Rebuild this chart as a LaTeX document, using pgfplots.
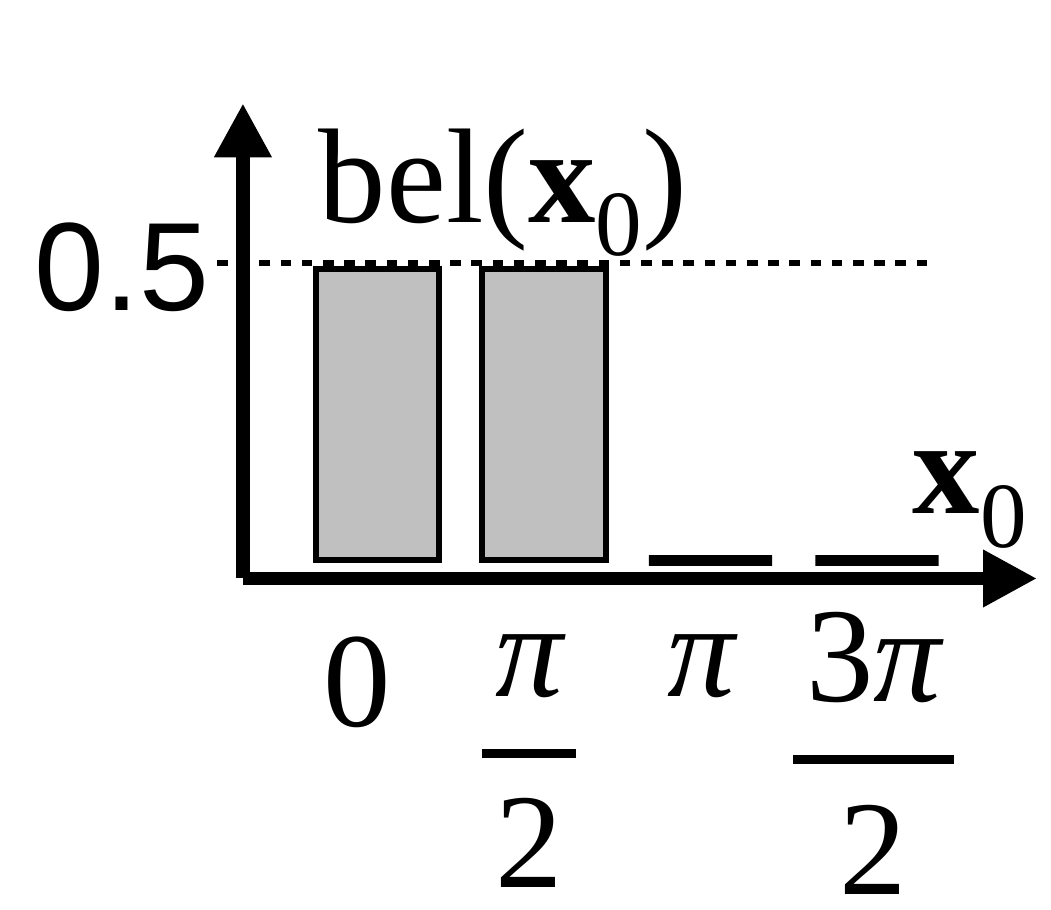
\documentclass[border=0pt]{standalone}
\usepackage{pgfplots}
\pgfplotsset{compat=1.18}
\usepackage{fontspec}
\setmainfont{Liberation Serif}
\newfontfamily\arial{Liberation Sans}
\usetikzlibrary{arrows.meta}
\definecolor{barGray}{RGB}{192,192,192}
% fraction: #1 numerator, #2 denominator, #3 bar width, #4 gap baseline->bar, #5 gap bar->den baseline
\newcommand\fr[5]{%
 \vtop{\offinterlineskip
  \setbox0=\hbox to #3{\hss#1\hss}\dp0=0pt \box0
  \kern #4
  \hrule height 2.25pt width #3
  \setbox0=\hbox to #3{\hss#2\hss}%
  \kern\dimexpr #5-\ht0\relax
  \box0}}
\newcommand\bigfont{\fontsize{33.7pt}{40pt}\selectfont}
\newcommand\subfont{\fontsize{23.3pt}{28pt}\selectfont}
\begin{document}
\begin{tikzpicture}
\begin{axis}[
  x=41.625pt, y=148.5pt,
  xmin=-0.808, xmax=3.961, ymin=-0.031, ymax=0.769,
  axis lines=left,
  axis line style={line width=3.3pt, -{Triangle[length=13.5pt,width=13.5pt]}},
  clip=false, enlargelimits=false,
  major tick length=0pt,
  xtick={-0.123,0.910,1.943,2.979},
  xticklabels={\raisebox{-7.5pt}{0}, \fr{\itshape π}{2}{23.5pt}{13.25pt}{32.25pt}, {\itshape π}, \raisebox{-1.25pt}{\fr{3{\itshape π}}{2}{40.25pt}{13.5pt}{32.5pt}}},
  xticklabel style={anchor=base, inner sep=0pt, font=\bigfont, yshift=-29.5pt},
  ytick={0.5}, yticklabels={0.5},
  yticklabel style={anchor=east, inner sep=0pt, font=\arial\fontsize{31.4pt}{38pt}\selectfont, xshift=-8.25pt, yshift=-1pt},
  xlabel={\textbf{x}\raisebox{-8.5pt}{\subfont 0}},
  xlabel style={at={(axis cs:3.21,0.0791)}, anchor=base west, inner sep=0pt, font=\bigfont},
  ylabel={bel(\textbf{x}\raisebox{-8.25pt}{\subfont 0})},
  ylabel style={rotate=-90, at={(axis cs:-0.357,0.569)}, anchor=base west, inner sep=0pt, font=\bigfont},
]
\addplot[black, line width=1.4pt, dash pattern=on 2.65pt off 2.65pt, forget plot] coordinates {(-0.964,0.5) (3.33,0.5)};
\addplot[ybar, bar width=0.74, bar shift=0pt, fill=barGray, draw=black, line width=1.5pt] coordinates {(0,0.49) (1,0.49)};
\addplot[ybar, bar width=0.74, bar shift=0pt, fill=black, draw=black, line width=2.75pt] coordinates {(2,0) (3,0)};
\coordinate (bbSW) at (axis cs:-2.267,-0.5875);
\coordinate (bbNE) at (axis cs:4.045,0.9428);
\end{axis}
\pgfresetboundingbox
\useasboundingbox (bbSW) rectangle (bbNE);
\end{tikzpicture}
\end{document}
